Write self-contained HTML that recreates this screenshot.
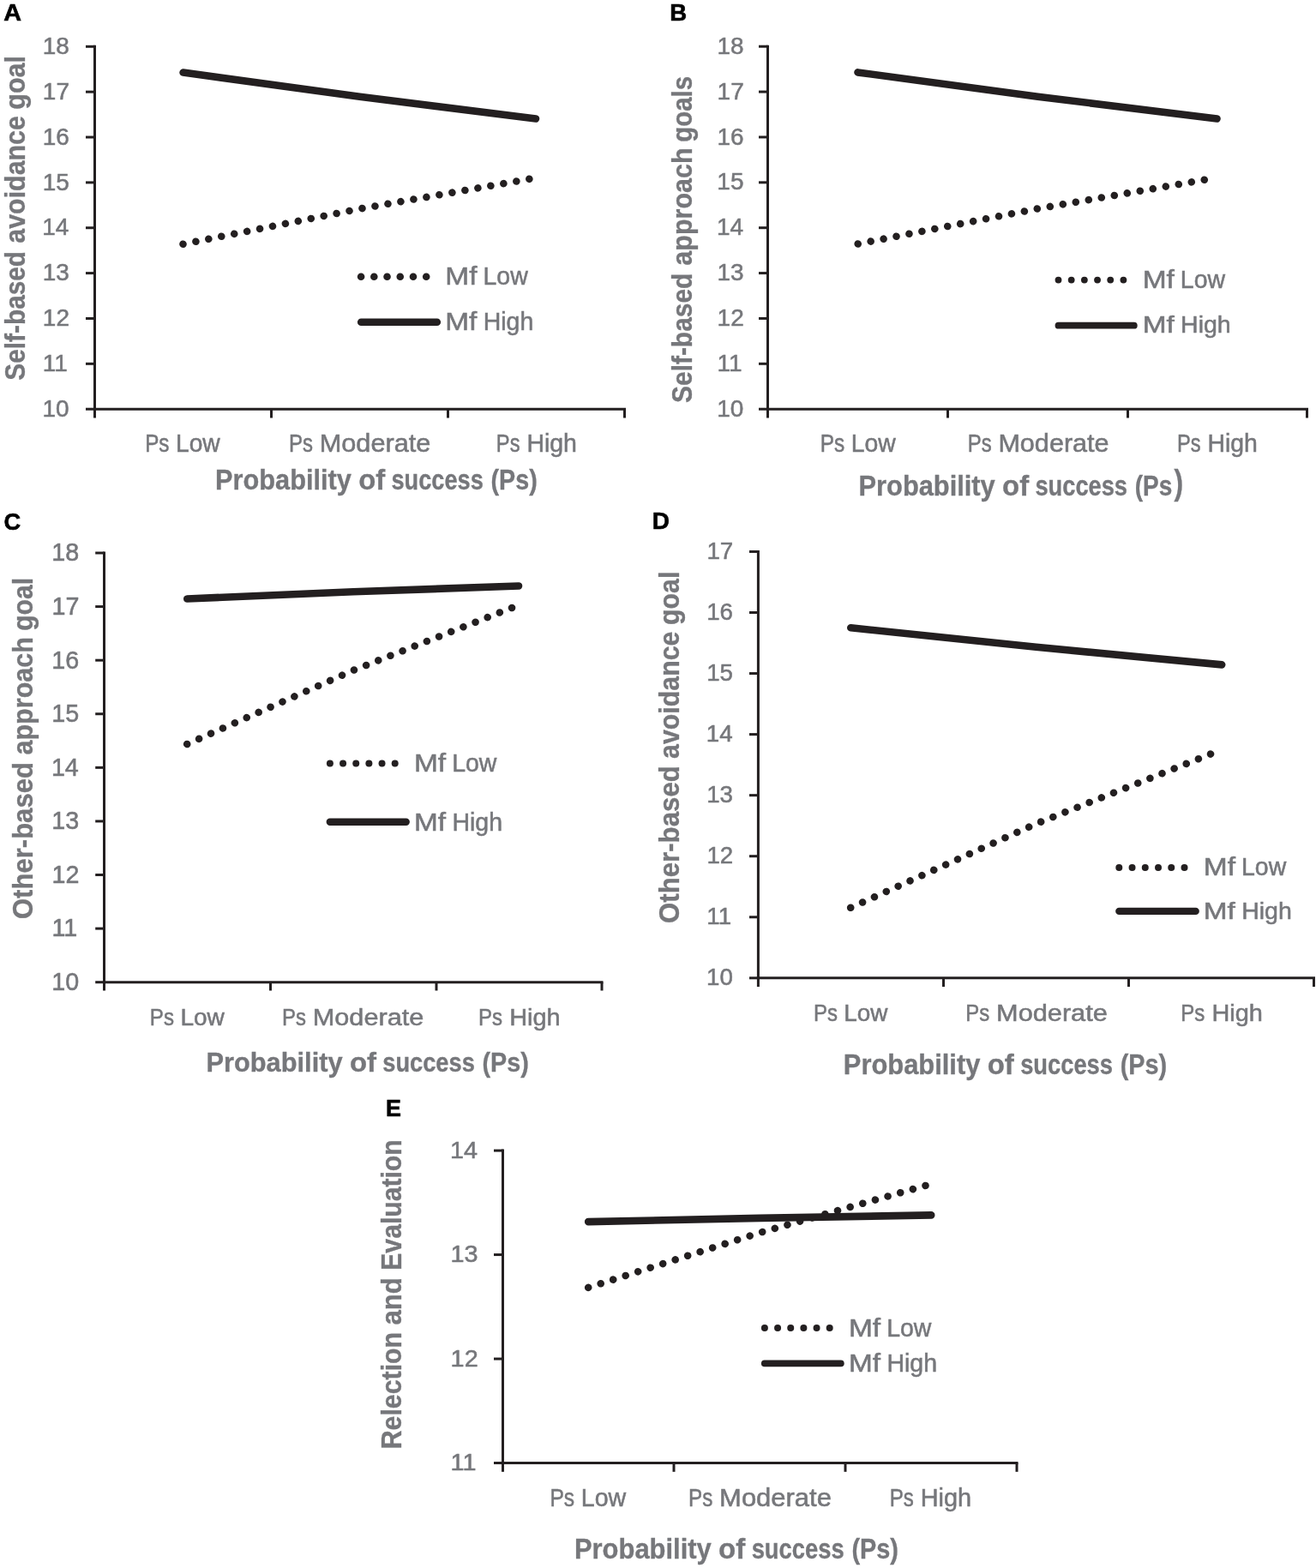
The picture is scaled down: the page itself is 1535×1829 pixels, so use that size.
<!DOCTYPE html>
<html><head><meta charset="utf-8"><title>Figure</title>
<style>html,body{margin:0;padding:0;background:#fff;overflow:hidden;}svg{display:block;}text{font-family:"Liberation Sans",Arial,sans-serif;}</style>
</head><body>
<svg width="1535" height="1829" viewBox="0 0 1535 1829">
<rect width="1535" height="1829" fill="#fff"/>
<line x1="110.5" y1="52.8" x2="110.5" y2="478.7" stroke="#231f20" stroke-width="3" stroke-linecap="butt"/>
<line x1="109.0" y1="477.2" x2="730.0" y2="477.2" stroke="#231f20" stroke-width="3" stroke-linecap="butt"/>
<line x1="100" y1="54.3" x2="110.5" y2="54.3" stroke="#231f20" stroke-width="3" stroke-linecap="butt"/>
<line x1="100" y1="107.1625" x2="110.5" y2="107.1625" stroke="#231f20" stroke-width="3" stroke-linecap="butt"/>
<line x1="100" y1="160.02499999999998" x2="110.5" y2="160.02499999999998" stroke="#231f20" stroke-width="3" stroke-linecap="butt"/>
<line x1="100" y1="212.8875" x2="110.5" y2="212.8875" stroke="#231f20" stroke-width="3" stroke-linecap="butt"/>
<line x1="100" y1="265.75" x2="110.5" y2="265.75" stroke="#231f20" stroke-width="3" stroke-linecap="butt"/>
<line x1="100" y1="318.6125" x2="110.5" y2="318.6125" stroke="#231f20" stroke-width="3" stroke-linecap="butt"/>
<line x1="100" y1="371.47499999999997" x2="110.5" y2="371.47499999999997" stroke="#231f20" stroke-width="3" stroke-linecap="butt"/>
<line x1="100" y1="424.3375" x2="110.5" y2="424.3375" stroke="#231f20" stroke-width="3" stroke-linecap="butt"/>
<line x1="100" y1="477.2" x2="110.5" y2="477.2" stroke="#231f20" stroke-width="3" stroke-linecap="butt"/>
<line x1="110.5" y1="477.2" x2="110.5" y2="487.5" stroke="#231f20" stroke-width="3" stroke-linecap="butt"/>
<line x1="316.5" y1="477.2" x2="316.5" y2="487.5" stroke="#231f20" stroke-width="3" stroke-linecap="butt"/>
<line x1="522.5" y1="477.2" x2="522.5" y2="487.5" stroke="#231f20" stroke-width="3" stroke-linecap="butt"/>
<line x1="728.5" y1="477.2" x2="728.5" y2="487.5" stroke="#231f20" stroke-width="3" stroke-linecap="butt"/>
<text transform="translate(49.68,62.95) scale(0.9878,1)" style="font-size:28.34px;fill:#76777b;stroke:#76777b;stroke-width:0.55">18</text>
<text transform="translate(49.87,115.81) scale(0.9878,1)" style="font-size:28.34px;fill:#76777b;stroke:#76777b;stroke-width:0.55">17</text>
<text transform="translate(49.69,168.67) scale(0.9878,1)" style="font-size:28.34px;fill:#76777b;stroke:#76777b;stroke-width:0.55">16</text>
<text transform="translate(49.64,221.54) scale(0.9878,1)" style="font-size:28.34px;fill:#76777b;stroke:#76777b;stroke-width:0.55">15</text>
<text transform="translate(49.28,274.40) scale(0.9878,1)" style="font-size:28.34px;fill:#76777b;stroke:#76777b;stroke-width:0.55">14</text>
<text transform="translate(49.69,327.26) scale(0.9878,1)" style="font-size:28.34px;fill:#76777b;stroke:#76777b;stroke-width:0.55">13</text>
<text transform="translate(49.87,380.12) scale(0.9878,1)" style="font-size:28.34px;fill:#76777b;stroke:#76777b;stroke-width:0.55">12</text>
<text transform="translate(49.83,432.99) scale(0.9878,1)" style="font-size:28.34px;fill:#76777b;stroke:#76777b;stroke-width:0.55">11</text>
<text transform="translate(49.55,485.85) scale(0.9878,1)" style="font-size:28.34px;fill:#76777b;stroke:#76777b;stroke-width:0.55">10</text>
<text transform="translate(169.21,527.30) scale(0.8297,1)" style="font-size:29.22px;fill:#76777b;stroke:#76777b;stroke-width:0.55">Ps</text>
<text transform="translate(205.01,527.30) scale(0.9650,1)" style="font-size:29.22px;fill:#76777b;stroke:#76777b;stroke-width:0.55">Low</text>
<text transform="translate(337.04,527.30) scale(0.8195,1)" style="font-size:29.22px;fill:#76777b;stroke:#76777b;stroke-width:0.55">Ps</text>
<text transform="translate(372.77,527.30) scale(1.0500,1)" style="font-size:29.22px;fill:#76777b;stroke:#76777b;stroke-width:0.55">Moderate</text>
<text transform="translate(578.86,527.30) scale(0.8104,1)" style="font-size:29.22px;fill:#76777b;stroke:#76777b;stroke-width:0.55">Ps</text>
<text transform="translate(614.40,527.30) scale(0.9743,1)" style="font-size:29.22px;fill:#76777b;stroke:#76777b;stroke-width:0.55">High</text>
<text transform="translate(251.04,570.90) scale(0.9404,1)" style="font-size:32.70px;font-weight:bold;fill:#76777b;stroke:#76777b;stroke-width:0.35">Probability</text>
<text transform="translate(418.19,570.90) scale(1.0041,1)" style="font-size:32.70px;font-weight:bold;fill:#76777b;stroke:#76777b;stroke-width:0.35">of</text>
<text transform="translate(456.48,570.90) scale(0.8319,1)" style="font-size:32.70px;font-weight:bold;fill:#76777b;stroke:#76777b;stroke-width:0.35">success</text>
<text transform="translate(572.51,570.90) scale(0.8776,1)" style="font-size:32.70px;font-weight:bold;fill:#76777b;stroke:#76777b;stroke-width:0.35">(Ps)</text>
<text transform="translate(28.80,127.75) rotate(-90) scale(0.9125,1)" style="font-size:33.43px;font-weight:bold;fill:#76777b;stroke:#76777b;stroke-width:0.35">goal</text>
<text transform="translate(28.80,283.69) rotate(-90) scale(0.9090,1)" style="font-size:33.43px;font-weight:bold;fill:#76777b;stroke:#76777b;stroke-width:0.35">avoidance</text>
<text transform="translate(28.80,443.66) rotate(-90) scale(0.8921,1)" style="font-size:33.43px;font-weight:bold;fill:#76777b;stroke:#76777b;stroke-width:0.35">Self-based</text>
<circle cx="421.10" cy="322.8" r="4.3" fill="#231f20"/>
<circle cx="436.32" cy="322.8" r="4.3" fill="#231f20"/>
<circle cx="451.54" cy="322.8" r="4.3" fill="#231f20"/>
<circle cx="466.76" cy="322.8" r="4.3" fill="#231f20"/>
<circle cx="481.98" cy="322.8" r="4.3" fill="#231f20"/>
<circle cx="497.20" cy="322.8" r="4.3" fill="#231f20"/>
<line x1="421.2" y1="375.8" x2="509.8" y2="375.8" stroke="#231f20" stroke-width="8.6" stroke-linecap="round"/>
<text transform="translate(519.25,332.20) scale(1.1082,1)" style="font-size:30.23px;fill:#76777b;stroke:#76777b;stroke-width:0.55">Mf</text>
<text transform="translate(563.47,332.20) scale(0.9423,1)" style="font-size:30.23px;fill:#76777b;stroke:#76777b;stroke-width:0.55">Low</text>
<text transform="translate(519.26,385.40) scale(1.1036,1)" style="font-size:30.23px;fill:#76777b;stroke:#76777b;stroke-width:0.55">Mf</text>
<text transform="translate(563.69,385.40) scale(0.9435,1)" style="font-size:30.23px;fill:#76777b;stroke:#76777b;stroke-width:0.55">High</text>
<path d="M213.6,84.6 L419.5,112.8 L625,138.5" fill="none" stroke="#231f20" stroke-width="8.6" stroke-linecap="round" stroke-linejoin="round"/>
<path d="M213.5,284.75 L419.5,243.6 L625.5,207.4" fill="none" stroke="#231f20" stroke-width="8.6" stroke-linecap="round" stroke-linejoin="round" stroke-dasharray="0.001 15.219000000000001"/>
<text transform="translate(4.18,24.00) scale(1.0362,1)" style="font-size:27.76px;font-weight:bold;fill:#000;stroke:#000;stroke-width:0.6">A</text>
<line x1="895.5" y1="52.7" x2="895.5" y2="478.7" stroke="#231f20" stroke-width="3" stroke-linecap="butt"/>
<line x1="894.0" y1="477.2" x2="1526.0" y2="477.2" stroke="#231f20" stroke-width="3" stroke-linecap="butt"/>
<line x1="885" y1="54.2" x2="895.5" y2="54.2" stroke="#231f20" stroke-width="3" stroke-linecap="butt"/>
<line x1="885" y1="107.075" x2="895.5" y2="107.075" stroke="#231f20" stroke-width="3" stroke-linecap="butt"/>
<line x1="885" y1="159.95" x2="895.5" y2="159.95" stroke="#231f20" stroke-width="3" stroke-linecap="butt"/>
<line x1="885" y1="212.825" x2="895.5" y2="212.825" stroke="#231f20" stroke-width="3" stroke-linecap="butt"/>
<line x1="885" y1="265.7" x2="895.5" y2="265.7" stroke="#231f20" stroke-width="3" stroke-linecap="butt"/>
<line x1="885" y1="318.575" x2="895.5" y2="318.575" stroke="#231f20" stroke-width="3" stroke-linecap="butt"/>
<line x1="885" y1="371.45" x2="895.5" y2="371.45" stroke="#231f20" stroke-width="3" stroke-linecap="butt"/>
<line x1="885" y1="424.325" x2="895.5" y2="424.325" stroke="#231f20" stroke-width="3" stroke-linecap="butt"/>
<line x1="885" y1="477.2" x2="895.5" y2="477.2" stroke="#231f20" stroke-width="3" stroke-linecap="butt"/>
<line x1="895.5" y1="477.2" x2="895.5" y2="487.5" stroke="#231f20" stroke-width="3" stroke-linecap="butt"/>
<line x1="1105.5" y1="477.2" x2="1105.5" y2="487.5" stroke="#231f20" stroke-width="3" stroke-linecap="butt"/>
<line x1="1315.5" y1="477.2" x2="1315.5" y2="487.5" stroke="#231f20" stroke-width="3" stroke-linecap="butt"/>
<line x1="1524.5" y1="477.2" x2="1524.5" y2="487.5" stroke="#231f20" stroke-width="3" stroke-linecap="butt"/>
<text transform="translate(836.38,62.85) scale(0.9878,1)" style="font-size:28.34px;fill:#76777b;stroke:#76777b;stroke-width:0.55">18</text>
<text transform="translate(836.57,115.73) scale(0.9878,1)" style="font-size:28.34px;fill:#76777b;stroke:#76777b;stroke-width:0.55">17</text>
<text transform="translate(836.39,168.60) scale(0.9878,1)" style="font-size:28.34px;fill:#76777b;stroke:#76777b;stroke-width:0.55">16</text>
<text transform="translate(836.34,221.47) scale(0.9878,1)" style="font-size:28.34px;fill:#76777b;stroke:#76777b;stroke-width:0.55">15</text>
<text transform="translate(835.98,274.35) scale(0.9878,1)" style="font-size:28.34px;fill:#76777b;stroke:#76777b;stroke-width:0.55">14</text>
<text transform="translate(836.39,327.22) scale(0.9878,1)" style="font-size:28.34px;fill:#76777b;stroke:#76777b;stroke-width:0.55">13</text>
<text transform="translate(836.57,380.10) scale(0.9878,1)" style="font-size:28.34px;fill:#76777b;stroke:#76777b;stroke-width:0.55">12</text>
<text transform="translate(836.53,432.97) scale(0.9878,1)" style="font-size:28.34px;fill:#76777b;stroke:#76777b;stroke-width:0.55">11</text>
<text transform="translate(836.25,485.85) scale(0.9878,1)" style="font-size:28.34px;fill:#76777b;stroke:#76777b;stroke-width:0.55">10</text>
<text transform="translate(956.80,526.90) scale(0.8462,1)" style="font-size:28.78px;fill:#76777b;stroke:#76777b;stroke-width:0.55">Ps</text>
<text transform="translate(992.77,526.90) scale(0.9842,1)" style="font-size:28.78px;fill:#76777b;stroke:#76777b;stroke-width:0.55">Low</text>
<text transform="translate(1128.74,526.90) scale(0.8298,1)" style="font-size:28.78px;fill:#76777b;stroke:#76777b;stroke-width:0.55">Ps</text>
<text transform="translate(1164.39,526.90) scale(1.0632,1)" style="font-size:28.78px;fill:#76777b;stroke:#76777b;stroke-width:0.55">Moderate</text>
<text transform="translate(1373.06,526.90) scale(0.8199,1)" style="font-size:28.78px;fill:#76777b;stroke:#76777b;stroke-width:0.55">Ps</text>
<text transform="translate(1408.49,526.90) scale(0.9858,1)" style="font-size:28.78px;fill:#76777b;stroke:#76777b;stroke-width:0.55">High</text>
<text transform="translate(1001.54,577.60) scale(0.9466,1)" style="font-size:32.56px;font-weight:bold;fill:#76777b;stroke:#76777b;stroke-width:0.35">Probability</text>
<text transform="translate(1169.05,577.60) scale(1.0108,1)" style="font-size:32.56px;font-weight:bold;fill:#76777b;stroke:#76777b;stroke-width:0.35">of</text>
<text transform="translate(1207.42,577.60) scale(0.8374,1)" style="font-size:32.56px;font-weight:bold;fill:#76777b;stroke:#76777b;stroke-width:0.35">success</text>
<text transform="translate(1323.73,577.60) scale(0.8600,1)" style="font-size:32.56px;font-weight:bold;fill:#76777b;stroke:#76777b;stroke-width:0.35">(Ps</text>
<text transform="translate(1369.47,576.72) scale(0.7991,1)" style="font-size:39.91px;font-weight:bold;fill:#76777b;stroke:#76777b;stroke-width:0.35">)</text>
<text transform="translate(806.60,165.71) rotate(-90) scale(0.8797,1)" style="font-size:33.43px;font-weight:bold;fill:#76777b;stroke:#76777b;stroke-width:0.35">goals</text>
<text transform="translate(806.60,309.69) rotate(-90) scale(0.9124,1)" style="font-size:33.43px;font-weight:bold;fill:#76777b;stroke:#76777b;stroke-width:0.35">approach</text>
<text transform="translate(806.60,469.96) rotate(-90) scale(0.8951,1)" style="font-size:33.43px;font-weight:bold;fill:#76777b;stroke:#76777b;stroke-width:0.35">Self-based</text>
<circle cx="1234.50" cy="326.6" r="3.9" fill="#231f20"/>
<circle cx="1249.68" cy="326.6" r="3.9" fill="#231f20"/>
<circle cx="1264.86" cy="326.6" r="3.9" fill="#231f20"/>
<circle cx="1280.04" cy="326.6" r="3.9" fill="#231f20"/>
<circle cx="1295.22" cy="326.6" r="3.9" fill="#231f20"/>
<circle cx="1310.40" cy="326.6" r="3.9" fill="#231f20"/>
<line x1="1234.5" y1="379.7" x2="1322.8" y2="379.7" stroke="#231f20" stroke-width="7.8" stroke-linecap="round"/>
<text transform="translate(1332.65,336.00) scale(1.1299,1)" style="font-size:29.65px;fill:#76777b;stroke:#76777b;stroke-width:0.55">Mf</text>
<text transform="translate(1376.87,336.00) scale(0.9608,1)" style="font-size:29.65px;fill:#76777b;stroke:#76777b;stroke-width:0.55">Low</text>
<text transform="translate(1332.66,388.30) scale(1.1772,1)" style="font-size:28.34px;fill:#76777b;stroke:#76777b;stroke-width:0.55">Mf</text>
<text transform="translate(1377.09,388.30) scale(1.0064,1)" style="font-size:28.34px;fill:#76777b;stroke:#76777b;stroke-width:0.55">High</text>
<path d="M1000.5,84.4 L1210.5,112.7 L1419.5,138.5" fill="none" stroke="#231f20" stroke-width="8.6" stroke-linecap="round" stroke-linejoin="round"/>
<path d="M1000.7,284.5 L1210.5,243.4 L1419.7,207.2" fill="none" stroke="#231f20" stroke-width="8.6" stroke-linecap="round" stroke-linejoin="round" stroke-dasharray="0.001 15.219000000000001"/>
<text transform="translate(781.26,24.00) scale(0.9923,1)" style="font-size:27.76px;font-weight:bold;fill:#000;stroke:#000;stroke-width:0.6">B</text>
<line x1="121.5" y1="643.5" x2="121.5" y2="1147.2" stroke="#231f20" stroke-width="3" stroke-linecap="butt"/>
<line x1="120.0" y1="1145.7" x2="703.5" y2="1145.7" stroke="#231f20" stroke-width="3" stroke-linecap="butt"/>
<line x1="111.2" y1="645.0" x2="121.5" y2="645.0" stroke="#231f20" stroke-width="3" stroke-linecap="butt"/>
<line x1="111.2" y1="707.5875" x2="121.5" y2="707.5875" stroke="#231f20" stroke-width="3" stroke-linecap="butt"/>
<line x1="111.2" y1="770.175" x2="121.5" y2="770.175" stroke="#231f20" stroke-width="3" stroke-linecap="butt"/>
<line x1="111.2" y1="832.7625" x2="121.5" y2="832.7625" stroke="#231f20" stroke-width="3" stroke-linecap="butt"/>
<line x1="111.2" y1="895.35" x2="121.5" y2="895.35" stroke="#231f20" stroke-width="3" stroke-linecap="butt"/>
<line x1="111.2" y1="957.9375" x2="121.5" y2="957.9375" stroke="#231f20" stroke-width="3" stroke-linecap="butt"/>
<line x1="111.2" y1="1020.5250000000001" x2="121.5" y2="1020.5250000000001" stroke="#231f20" stroke-width="3" stroke-linecap="butt"/>
<line x1="111.2" y1="1083.1125000000002" x2="121.5" y2="1083.1125000000002" stroke="#231f20" stroke-width="3" stroke-linecap="butt"/>
<line x1="111.2" y1="1145.7" x2="121.5" y2="1145.7" stroke="#231f20" stroke-width="3" stroke-linecap="butt"/>
<line x1="121.5" y1="1145.7" x2="121.5" y2="1155.5" stroke="#231f20" stroke-width="3" stroke-linecap="butt"/>
<line x1="315.5" y1="1145.7" x2="315.5" y2="1155.5" stroke="#231f20" stroke-width="3" stroke-linecap="butt"/>
<line x1="509" y1="1145.7" x2="509" y2="1155.5" stroke="#231f20" stroke-width="3" stroke-linecap="butt"/>
<line x1="702" y1="1145.7" x2="702" y2="1155.5" stroke="#231f20" stroke-width="3" stroke-linecap="butt"/>
<text transform="translate(60.32,654.35) scale(1.0025,1)" style="font-size:28.63px;fill:#76777b;stroke:#76777b;stroke-width:0.55">18</text>
<text transform="translate(60.51,716.94) scale(1.0025,1)" style="font-size:28.63px;fill:#76777b;stroke:#76777b;stroke-width:0.55">17</text>
<text transform="translate(60.33,779.52) scale(1.0025,1)" style="font-size:28.63px;fill:#76777b;stroke:#76777b;stroke-width:0.55">16</text>
<text transform="translate(60.28,842.11) scale(1.0025,1)" style="font-size:28.63px;fill:#76777b;stroke:#76777b;stroke-width:0.55">15</text>
<text transform="translate(59.91,904.70) scale(1.0025,1)" style="font-size:28.63px;fill:#76777b;stroke:#76777b;stroke-width:0.55">14</text>
<text transform="translate(60.33,967.29) scale(1.0025,1)" style="font-size:28.63px;fill:#76777b;stroke:#76777b;stroke-width:0.55">13</text>
<text transform="translate(60.51,1029.88) scale(1.0025,1)" style="font-size:28.63px;fill:#76777b;stroke:#76777b;stroke-width:0.55">12</text>
<text transform="translate(60.47,1092.46) scale(1.0025,1)" style="font-size:28.63px;fill:#76777b;stroke:#76777b;stroke-width:0.55">11</text>
<text transform="translate(60.19,1155.05) scale(1.0025,1)" style="font-size:28.63px;fill:#76777b;stroke:#76777b;stroke-width:0.55">10</text>
<text transform="translate(174.82,1195.60) scale(0.8502,1)" style="font-size:28.34px;fill:#76777b;stroke:#76777b;stroke-width:0.55">Ps</text>
<text transform="translate(210.41,1195.60) scale(0.9889,1)" style="font-size:28.34px;fill:#76777b;stroke:#76777b;stroke-width:0.55">Low</text>
<text transform="translate(329.04,1195.60) scale(0.8447,1)" style="font-size:28.34px;fill:#76777b;stroke:#76777b;stroke-width:0.55">Ps</text>
<text transform="translate(364.77,1195.60) scale(1.0823,1)" style="font-size:28.34px;fill:#76777b;stroke:#76777b;stroke-width:0.55">Moderate</text>
<text transform="translate(558.03,1195.60) scale(0.8483,1)" style="font-size:28.34px;fill:#76777b;stroke:#76777b;stroke-width:0.55">Ps</text>
<text transform="translate(594.13,1195.60) scale(1.0199,1)" style="font-size:28.34px;fill:#76777b;stroke:#76777b;stroke-width:0.55">High</text>
<text transform="translate(240.44,1249.50) scale(0.9592,1)" style="font-size:32.12px;font-weight:bold;fill:#76777b;stroke:#76777b;stroke-width:0.35">Probability</text>
<text transform="translate(407.90,1249.50) scale(1.0242,1)" style="font-size:32.12px;font-weight:bold;fill:#76777b;stroke:#76777b;stroke-width:0.35">of</text>
<text transform="translate(446.26,1249.50) scale(0.8486,1)" style="font-size:32.12px;font-weight:bold;fill:#76777b;stroke:#76777b;stroke-width:0.35">success</text>
<text transform="translate(562.51,1249.50) scale(0.8952,1)" style="font-size:32.12px;font-weight:bold;fill:#76777b;stroke:#76777b;stroke-width:0.35">(Ps)</text>
<text transform="translate(37.80,735.83) rotate(-90) scale(0.9002,1)" style="font-size:33.43px;font-weight:bold;fill:#76777b;stroke:#76777b;stroke-width:0.35">goal</text>
<text transform="translate(37.80,880.49) rotate(-90) scale(0.9130,1)" style="font-size:33.43px;font-weight:bold;fill:#76777b;stroke:#76777b;stroke-width:0.35">approach</text>
<text transform="translate(37.80,1072.07) rotate(-90) scale(0.9295,1)" style="font-size:33.43px;font-weight:bold;fill:#76777b;stroke:#76777b;stroke-width:0.35">Other-based</text>
<circle cx="384.90" cy="890.5" r="4.0" fill="#231f20"/>
<circle cx="400.06" cy="890.5" r="4.0" fill="#231f20"/>
<circle cx="415.22" cy="890.5" r="4.0" fill="#231f20"/>
<circle cx="430.38" cy="890.5" r="4.0" fill="#231f20"/>
<circle cx="445.54" cy="890.5" r="4.0" fill="#231f20"/>
<circle cx="460.70" cy="890.5" r="4.0" fill="#231f20"/>
<line x1="384.8" y1="958.8" x2="473.7" y2="958.8" stroke="#231f20" stroke-width="8.4" stroke-linecap="round"/>
<text transform="translate(482.95,899.90) scale(1.1299,1)" style="font-size:29.65px;fill:#76777b;stroke:#76777b;stroke-width:0.55">Mf</text>
<text transform="translate(527.17,899.90) scale(0.9608,1)" style="font-size:29.65px;fill:#76777b;stroke:#76777b;stroke-width:0.55">Low</text>
<text transform="translate(482.96,968.70) scale(1.1253,1)" style="font-size:29.65px;fill:#76777b;stroke:#76777b;stroke-width:0.55">Mf</text>
<text transform="translate(527.39,968.70) scale(0.9620,1)" style="font-size:29.65px;fill:#76777b;stroke:#76777b;stroke-width:0.55">High</text>
<path d="M218.3,698.5 L412,690.3 L605,683.5" fill="none" stroke="#231f20" stroke-width="8.6" stroke-linecap="round" stroke-linejoin="round"/>
<path d="M218.2,868 L412,781.9 L605.5,705.6" fill="none" stroke="#231f20" stroke-width="8.6" stroke-linecap="round" stroke-linejoin="round" stroke-dasharray="0.001 15.219000000000001"/>
<text transform="translate(4.58,617.60) scale(0.9858,1)" style="font-size:27.62px;font-weight:bold;fill:#000;stroke:#000;stroke-width:0.6">C</text>
<line x1="884.4" y1="641.95" x2="884.4" y2="1142.3" stroke="#231f20" stroke-width="3" stroke-linecap="butt"/>
<line x1="882.9" y1="1140.8" x2="1534.0" y2="1140.8" stroke="#231f20" stroke-width="3" stroke-linecap="butt"/>
<line x1="874" y1="643.45" x2="884.4" y2="643.45" stroke="#231f20" stroke-width="3" stroke-linecap="butt"/>
<line x1="874" y1="714.5" x2="884.4" y2="714.5" stroke="#231f20" stroke-width="3" stroke-linecap="butt"/>
<line x1="874" y1="785.55" x2="884.4" y2="785.55" stroke="#231f20" stroke-width="3" stroke-linecap="butt"/>
<line x1="874" y1="856.6" x2="884.4" y2="856.6" stroke="#231f20" stroke-width="3" stroke-linecap="butt"/>
<line x1="874" y1="927.65" x2="884.4" y2="927.65" stroke="#231f20" stroke-width="3" stroke-linecap="butt"/>
<line x1="874" y1="998.7" x2="884.4" y2="998.7" stroke="#231f20" stroke-width="3" stroke-linecap="butt"/>
<line x1="874" y1="1069.75" x2="884.4" y2="1069.75" stroke="#231f20" stroke-width="3" stroke-linecap="butt"/>
<line x1="874" y1="1140.8" x2="884.4" y2="1140.8" stroke="#231f20" stroke-width="3" stroke-linecap="butt"/>
<line x1="884.4" y1="1140.8" x2="884.4" y2="1151" stroke="#231f20" stroke-width="3" stroke-linecap="butt"/>
<line x1="1100.5" y1="1140.8" x2="1100.5" y2="1151" stroke="#231f20" stroke-width="3" stroke-linecap="butt"/>
<line x1="1316.5" y1="1140.8" x2="1316.5" y2="1151" stroke="#231f20" stroke-width="3" stroke-linecap="butt"/>
<line x1="1532.5" y1="1140.8" x2="1532.5" y2="1151" stroke="#231f20" stroke-width="3" stroke-linecap="butt"/>
<text transform="translate(824.39,651.60) scale(0.9923,1)" style="font-size:27.91px;fill:#76777b;stroke:#76777b;stroke-width:0.55">17</text>
<text transform="translate(824.21,722.65) scale(0.9923,1)" style="font-size:27.91px;fill:#76777b;stroke:#76777b;stroke-width:0.55">16</text>
<text transform="translate(824.16,793.70) scale(0.9923,1)" style="font-size:27.91px;fill:#76777b;stroke:#76777b;stroke-width:0.55">15</text>
<text transform="translate(823.81,864.75) scale(0.9923,1)" style="font-size:27.91px;fill:#76777b;stroke:#76777b;stroke-width:0.55">14</text>
<text transform="translate(824.21,935.80) scale(0.9923,1)" style="font-size:27.91px;fill:#76777b;stroke:#76777b;stroke-width:0.55">13</text>
<text transform="translate(824.39,1006.85) scale(0.9923,1)" style="font-size:27.91px;fill:#76777b;stroke:#76777b;stroke-width:0.55">12</text>
<text transform="translate(824.35,1077.90) scale(0.9923,1)" style="font-size:27.91px;fill:#76777b;stroke:#76777b;stroke-width:0.55">11</text>
<text transform="translate(824.08,1148.95) scale(0.9923,1)" style="font-size:27.91px;fill:#76777b;stroke:#76777b;stroke-width:0.55">10</text>
<text transform="translate(948.93,1190.60) scale(0.8594,1)" style="font-size:27.91px;fill:#76777b;stroke:#76777b;stroke-width:0.55">Ps</text>
<text transform="translate(984.35,1190.60) scale(0.9996,1)" style="font-size:27.91px;fill:#76777b;stroke:#76777b;stroke-width:0.55">Low</text>
<text transform="translate(1126.33,1190.60) scale(0.8589,1)" style="font-size:27.91px;fill:#76777b;stroke:#76777b;stroke-width:0.55">Ps</text>
<text transform="translate(1162.11,1190.60) scale(1.1005,1)" style="font-size:27.91px;fill:#76777b;stroke:#76777b;stroke-width:0.55">Moderate</text>
<text transform="translate(1377.33,1190.60) scale(0.8615,1)" style="font-size:27.91px;fill:#76777b;stroke:#76777b;stroke-width:0.55">Ps</text>
<text transform="translate(1413.43,1190.60) scale(1.0358,1)" style="font-size:27.91px;fill:#76777b;stroke:#76777b;stroke-width:0.55">High</text>
<text transform="translate(983.83,1252.80) scale(0.9402,1)" style="font-size:32.85px;font-weight:bold;fill:#76777b;stroke:#76777b;stroke-width:0.35">Probability</text>
<text transform="translate(1151.70,1252.80) scale(1.0040,1)" style="font-size:32.85px;font-weight:bold;fill:#76777b;stroke:#76777b;stroke-width:0.35">of</text>
<text transform="translate(1190.16,1252.80) scale(0.8318,1)" style="font-size:32.85px;font-weight:bold;fill:#76777b;stroke:#76777b;stroke-width:0.35">success</text>
<text transform="translate(1306.68,1252.80) scale(0.8775,1)" style="font-size:32.85px;font-weight:bold;fill:#76777b;stroke:#76777b;stroke-width:0.35">(Ps)</text>
<text transform="translate(791.80,728.94) rotate(-90) scale(0.9079,1)" style="font-size:33.43px;font-weight:bold;fill:#76777b;stroke:#76777b;stroke-width:0.35">goal</text>
<text transform="translate(791.80,884.89) rotate(-90) scale(0.9071,1)" style="font-size:33.43px;font-weight:bold;fill:#76777b;stroke:#76777b;stroke-width:0.35">avoidance</text>
<text transform="translate(791.80,1076.98) rotate(-90) scale(0.9336,1)" style="font-size:33.43px;font-weight:bold;fill:#76777b;stroke:#76777b;stroke-width:0.35">Other-based</text>
<circle cx="1305.30" cy="1011.9" r="4.0" fill="#231f20"/>
<circle cx="1320.54" cy="1011.9" r="4.0" fill="#231f20"/>
<circle cx="1335.78" cy="1011.9" r="4.0" fill="#231f20"/>
<circle cx="1351.02" cy="1011.9" r="4.0" fill="#231f20"/>
<circle cx="1366.26" cy="1011.9" r="4.0" fill="#231f20"/>
<circle cx="1381.50" cy="1011.9" r="4.0" fill="#231f20"/>
<line x1="1305.3" y1="1062.9" x2="1394.7" y2="1062.9" stroke="#231f20" stroke-width="8.3" stroke-linecap="round"/>
<text transform="translate(1403.75,1020.60) scale(1.1525,1)" style="font-size:29.07px;fill:#76777b;stroke:#76777b;stroke-width:0.55">Mf</text>
<text transform="translate(1447.97,1020.60) scale(0.9800,1)" style="font-size:29.07px;fill:#76777b;stroke:#76777b;stroke-width:0.55">Low</text>
<text transform="translate(1403.76,1071.80) scale(1.1712,1)" style="font-size:28.49px;fill:#76777b;stroke:#76777b;stroke-width:0.55">Mf</text>
<text transform="translate(1448.19,1071.80) scale(1.0012,1)" style="font-size:28.49px;fill:#76777b;stroke:#76777b;stroke-width:0.55">High</text>
<path d="M992.3,732.3 L1208.5,754.8 L1425.2,775.4" fill="none" stroke="#231f20" stroke-width="8.6" stroke-linecap="round" stroke-linejoin="round"/>
<path d="M992.2,1058.8 L1208.5,960.9 L1424.5,874.6" fill="none" stroke="#231f20" stroke-width="8.6" stroke-linecap="round" stroke-linejoin="round" stroke-dasharray="0.001 15.219000000000001"/>
<text transform="translate(760.72,617.40) scale(0.9946,1)" style="font-size:28.20px;font-weight:bold;fill:#000;stroke:#000;stroke-width:0.6">D</text>
<line x1="586.5" y1="1340.6" x2="586.5" y2="1708.0" stroke="#231f20" stroke-width="3" stroke-linecap="butt"/>
<line x1="585.0" y1="1706.5" x2="1187.5" y2="1706.5" stroke="#231f20" stroke-width="3" stroke-linecap="butt"/>
<line x1="576" y1="1342.1" x2="586.5" y2="1342.1" stroke="#231f20" stroke-width="3" stroke-linecap="butt"/>
<line x1="576" y1="1463.5666666666666" x2="586.5" y2="1463.5666666666666" stroke="#231f20" stroke-width="3" stroke-linecap="butt"/>
<line x1="576" y1="1585.0333333333333" x2="586.5" y2="1585.0333333333333" stroke="#231f20" stroke-width="3" stroke-linecap="butt"/>
<line x1="576" y1="1706.5" x2="586.5" y2="1706.5" stroke="#231f20" stroke-width="3" stroke-linecap="butt"/>
<line x1="586.5" y1="1706.5" x2="586.5" y2="1716.8" stroke="#231f20" stroke-width="3" stroke-linecap="butt"/>
<line x1="786" y1="1706.5" x2="786" y2="1716.8" stroke="#231f20" stroke-width="3" stroke-linecap="butt"/>
<line x1="986" y1="1706.5" x2="986" y2="1716.8" stroke="#231f20" stroke-width="3" stroke-linecap="butt"/>
<line x1="1186" y1="1706.5" x2="1186" y2="1716.8" stroke="#231f20" stroke-width="3" stroke-linecap="butt"/>
<text transform="translate(525.01,1350.60) scale(1.0215,1)" style="font-size:28.20px;fill:#76777b;stroke:#76777b;stroke-width:0.55">14</text>
<text transform="translate(525.43,1472.07) scale(1.0215,1)" style="font-size:28.20px;fill:#76777b;stroke:#76777b;stroke-width:0.55">13</text>
<text transform="translate(525.61,1593.53) scale(1.0215,1)" style="font-size:28.20px;fill:#76777b;stroke:#76777b;stroke-width:0.55">12</text>
<text transform="translate(525.57,1715.00) scale(1.0215,1)" style="font-size:28.20px;fill:#76777b;stroke:#76777b;stroke-width:0.55">11</text>
<text transform="translate(641.38,1756.60) scale(0.8381,1)" style="font-size:29.36px;fill:#76777b;stroke:#76777b;stroke-width:0.55">Ps</text>
<text transform="translate(677.72,1756.60) scale(0.9748,1)" style="font-size:29.36px;fill:#76777b;stroke:#76777b;stroke-width:0.55">Low</text>
<text transform="translate(803.02,1756.60) scale(0.8235,1)" style="font-size:29.36px;fill:#76777b;stroke:#76777b;stroke-width:0.55">Ps</text>
<text transform="translate(839.11,1756.60) scale(1.0551,1)" style="font-size:29.36px;fill:#76777b;stroke:#76777b;stroke-width:0.55">Moderate</text>
<text transform="translate(1037.63,1756.60) scale(0.8189,1)" style="font-size:29.36px;fill:#76777b;stroke:#76777b;stroke-width:0.55">Ps</text>
<text transform="translate(1073.73,1756.60) scale(0.9845,1)" style="font-size:29.36px;fill:#76777b;stroke:#76777b;stroke-width:0.55">High</text>
<text transform="translate(669.93,1818.40) scale(0.9420,1)" style="font-size:32.85px;font-weight:bold;fill:#76777b;stroke:#76777b;stroke-width:0.35">Probability</text>
<text transform="translate(838.11,1818.40) scale(1.0058,1)" style="font-size:32.85px;font-weight:bold;fill:#76777b;stroke:#76777b;stroke-width:0.35">of</text>
<text transform="translate(876.64,1818.40) scale(0.8333,1)" style="font-size:32.85px;font-weight:bold;fill:#76777b;stroke:#76777b;stroke-width:0.35">success</text>
<text transform="translate(993.38,1818.40) scale(0.8791,1)" style="font-size:32.85px;font-weight:bold;fill:#76777b;stroke:#76777b;stroke-width:0.35">(Ps)</text>
<text transform="translate(467.60,1481.72) rotate(-90) scale(0.9256,1)" style="font-size:32.56px;font-weight:bold;fill:#76777b;stroke:#76777b;stroke-width:0.35">Evaluation</text>
<text transform="translate(467.60,1545.61) rotate(-90) scale(0.9565,1)" style="font-size:32.56px;font-weight:bold;fill:#76777b;stroke:#76777b;stroke-width:0.35">and</text>
<text transform="translate(467.60,1690.33) rotate(-90) scale(0.9315,1)" style="font-size:32.56px;font-weight:bold;fill:#76777b;stroke:#76777b;stroke-width:0.35">Relection</text>
<circle cx="891.90" cy="1548.9" r="4.0" fill="#231f20"/>
<circle cx="907.06" cy="1548.9" r="4.0" fill="#231f20"/>
<circle cx="922.22" cy="1548.9" r="4.0" fill="#231f20"/>
<circle cx="937.38" cy="1548.9" r="4.0" fill="#231f20"/>
<circle cx="952.54" cy="1548.9" r="4.0" fill="#231f20"/>
<circle cx="967.70" cy="1548.9" r="4.0" fill="#231f20"/>
<line x1="891.7" y1="1590.4" x2="980.9" y2="1590.4" stroke="#231f20" stroke-width="7.6" stroke-linecap="round"/>
<text transform="translate(989.95,1558.60) scale(1.1355,1)" style="font-size:29.51px;fill:#76777b;stroke:#76777b;stroke-width:0.55">Mf</text>
<text transform="translate(1034.17,1558.60) scale(0.9655,1)" style="font-size:29.51px;fill:#76777b;stroke:#76777b;stroke-width:0.55">Low</text>
<text transform="translate(989.96,1599.70) scale(1.1478,1)" style="font-size:29.07px;fill:#76777b;stroke:#76777b;stroke-width:0.55">Mf</text>
<text transform="translate(1034.39,1599.70) scale(0.9812,1)" style="font-size:29.07px;fill:#76777b;stroke:#76777b;stroke-width:0.55">High</text>
<path d="M686.2,1425.1 L886.2,1420.85 L1086.2,1417.4" fill="none" stroke="#231f20" stroke-width="8.6" stroke-linecap="round" stroke-linejoin="round"/>
<path d="M686.2,1501.9 L886.2,1437.9 L1086,1381.1" fill="none" stroke="#231f20" stroke-width="8.6" stroke-linecap="round" stroke-linejoin="round" stroke-dasharray="0.001 15.219000000000001"/>
<text transform="translate(450.10,1301.50) scale(0.9496,1)" style="font-size:28.34px;font-weight:bold;fill:#000;stroke:#000;stroke-width:0.6">E</text>
</svg>
</body></html>
